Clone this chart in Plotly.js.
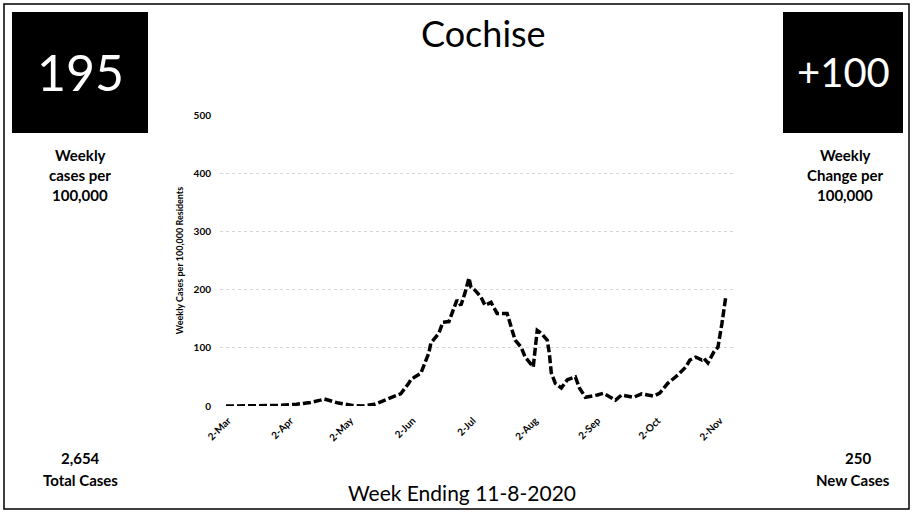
<!DOCTYPE html>
<html>
<head>
<meta charset="utf-8">
<script src="https://cdn.plot.ly/plotly-3.0.1.min.js"></script>
<style>html,body{margin:0;padding:0;background:#fff;}#chart{width:914px;height:512px;}</style>
</head>
<body>
<div id="chart"></div>
<script>
// ---- data ----
const dates = ['2020-03-01','2020-03-08','2020-03-18','2020-03-28','2020-04-05','2020-04-12','2020-04-17','2020-04-19','2020-04-22','2020-04-26','2020-05-03','2020-05-08','2020-05-14','2020-05-20','2020-05-23','2020-05-27','2020-05-31','2020-06-01','2020-06-03','2020-06-06','2020-06-10','2020-06-11','2020-06-15','2020-06-17','2020-06-20','2020-06-22','2020-06-24','2020-06-26','2020-06-28','2020-06-30','2020-07-01','2020-07-03','2020-07-06','2020-07-08','2020-07-11','2020-07-14','2020-07-19','2020-07-21','2020-07-23','2020-07-26','2020-07-28','2020-08-01','2020-08-03','2020-08-05','2020-08-08','2020-08-09','2020-08-10','2020-08-12','2020-08-15','2020-08-18','2020-08-22','2020-08-24','2020-08-27','2020-09-02','2020-09-05','2020-09-11','2020-09-14','2020-09-20','2020-09-24','2020-09-30','2020-10-03','2020-10-07','2020-10-12','2020-10-16','2020-10-18','2020-10-21','2020-10-24','2020-10-25','2020-10-27','2020-10-30','2020-11-01','2020-11-03','2020-11-04','2020-11-05'];
const weeklyCases = [0,0,0,1,3,6,10,12,9,5,1,0,3,12,15,21,39,45,50,56,91,108,125,144,145,165,182,173,194,220,204,199,187,173,178,159,159,136,113,101,84,67,130,125,113,91,57,39,31,45,50,31,15,19,22,10,19,15,21,17,22,39,53,67,79,84,79,82,74,93,101,142,170,190];
const tickDates = ['2020-03-02','2020-04-02','2020-05-02','2020-06-02','2020-07-02','2020-08-02','2020-09-02','2020-10-02','2020-11-02'];
const tickLabels = ['2-Mar','2-Apr','2-May','2-Jun','2-Jul','2-Aug','2-Sep','2-Oct','2-Nov'];
const yTicks = [0,100,200,300,400,500];
const countyName = 'Cochise';
const weeklyRate = '195';
const weeklyChange = '+100';
const totalCases = '2,654';
const newCases = '250';
const weekEnding = 'Week Ending 11-8-2020';

// ---- layout helpers (pixel -> paper) ----
const L = 220, R = 734, T = 115, B = 406;
const px = x => (x - L) / (R - L);
const py = y => (B - y) / (B - T);
const FONT = 'Lato, "Open Sans", sans-serif';

const shapes = [
  {type:'rect', xref:'paper', yref:'paper', x0:px(4), x1:px(909), y0:py(4), y1:py(509), line:{color:'#000', width:1.5}, fillcolor:'rgba(0,0,0,0)', layer:'below'},
  {type:'rect', xref:'paper', yref:'paper', x0:px(12), x1:px(148), y0:py(12), y1:py(133), line:{width:0}, fillcolor:'#000'},
  {type:'rect', xref:'paper', yref:'paper', x0:px(783), x1:px(903), y0:py(12), y1:py(133), line:{width:0}, fillcolor:'#000'}
];

function ann(text, x, y, size, opts) {
  return Object.assign({text:text, xref:'paper', yref:'paper', x:px(x), y:py(y), xanchor:'center', yanchor:'middle', showarrow:false, font:{family:FONT, size:size, color:'#000'}}, opts || {});
}

const annotations = [
  ann(weeklyRate, 80, 72, 50, {font:{family:FONT, size:50, color:'#fff'}}),
  ann(weeklyChange, 843, 72, 40, {font:{family:FONT, size:40, color:'#fff'}}),
  ann('<b>Weekly</b>', 80, 155, 15),
  ann('<b>cases per</b>', 80, 175, 15),
  ann('<b>100,000</b>', 80, 195, 15),
  ann('<b>Weekly</b>', 845, 155, 15),
  ann('<b>Change per</b>', 845, 175, 15),
  ann('<b>100,000</b>', 845, 195, 15),
  ann('<b>' + totalCases + '</b>', 80, 458, 15),
  ann('<b>Total Cases</b>', 80, 480, 15),
  ann('<b>' + newCases + '</b>', 858, 458, 15),
  ann('<b>New Cases</b>', 853, 480, 15),
  ann(countyName, 483, 33, 36),
  ann(weekEnding, 462, 492, 21)
];

const trace = {
  x: dates, y: weeklyCases, type:'scatter', mode:'lines',
  line:{color:'#000', width:3.5, dash:'8px,3px'},
  hoverinfo:'skip'
};

const layout = {
  width:914, height:512,
  margin:{l:L, r:914-R, t:T, b:512-B, pad:0},
  paper_bgcolor:'#fff', plot_bgcolor:'#fff',
  showlegend:false,
  xaxis:{
    type:'date', range:['2020-02-27','2020-11-09'],
    tickvals:tickDates, ticktext:tickLabels.map(t => '<b>'+t+'</b>'), tickangle:-45,
    tickfont:{family:FONT, size:10, color:'#000'},
    showgrid:false, zeroline:false, showline:false, ticks:'outside', ticklen:4, tickcolor:'rgba(0,0,0,0)'
  },
  yaxis:{
    range:[0,500], tickvals:yTicks, ticktext:yTicks.map(v => '<b>'+v+'</b>'),
    tickfont:{family:FONT, size:10, color:'#000'},
    showgrid:true, gridcolor:'#d6d6d6', griddash:'dot', gridwidth:1,
    zeroline:false, showline:false, ticks:'outside', ticklen:6, tickcolor:'rgba(0,0,0,0)',
    title:{text:'<b>Weekly Cases per 100,000 Residents</b>', font:{family:FONT, size:9, color:'#000'}, standoff:8}
  },
  shapes:shapes,
  annotations:annotations
};

Plotly.newPlot('chart', [trace], layout, {displayModeBar:false, staticPlot:true});
</script>
</body>
</html>
